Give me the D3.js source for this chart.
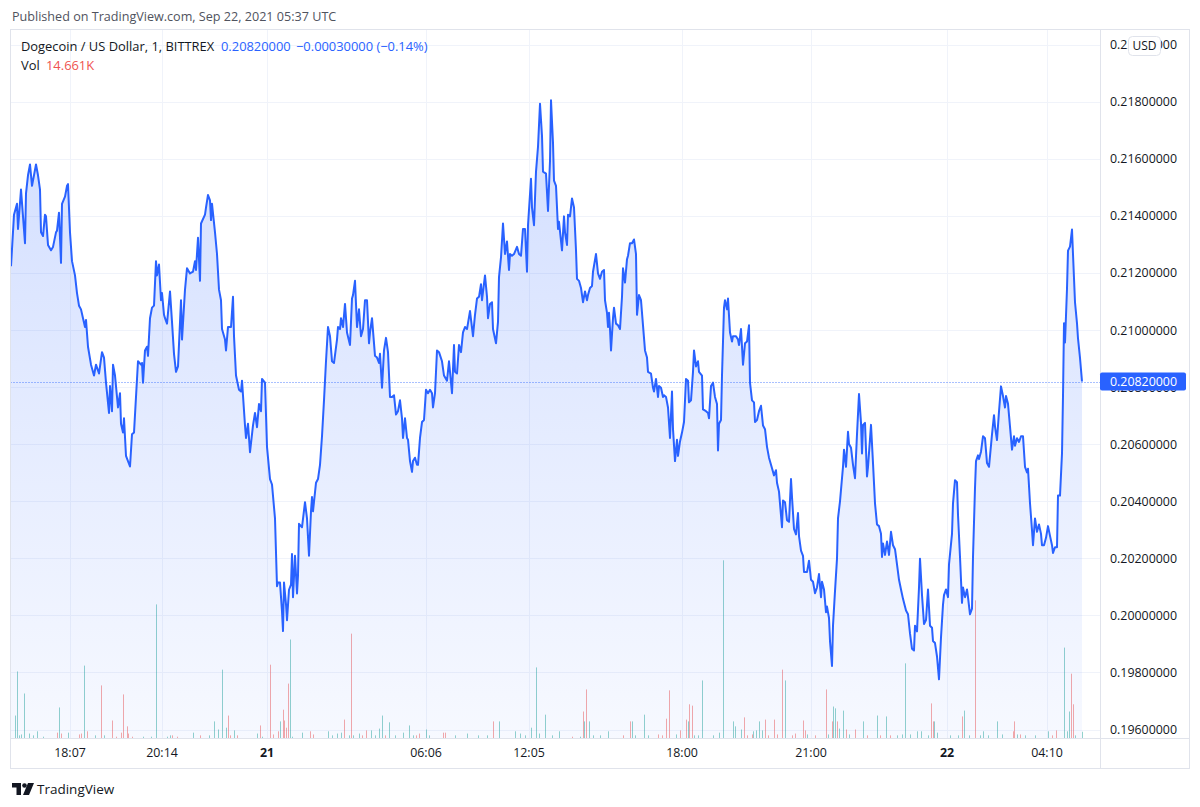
<!DOCTYPE html>
<html><head><meta charset="utf-8">
<script src="https://cdn.jsdelivr.net/npm/d3@7"></script>
<style>
html,body{margin:0;padding:0;background:#fff;}
svg{display:block;font-family:"Open Sans",sans-serif;}
</style></head>
<body>
<svg id="chart" width="1200" height="807"></svg>
<script>
// ---- DATA (bar index = 1-minute bar number from left edge) ----
const bars = [0,3,6,7,10,14,15,17,19,21,25,27,29,30,32,34,35,37,40,42,45,46,48,50,51,54,56,57,59,61,64,66,68,70,72,74,75,77,80,83,85,88,91,93,95,98,99,101,102,104,107,109,110,112,113,115,119,121,123,125,127,130,131,132,134,136,137,139,141,143,145,146,148,150,151,153,154,156,159,161,163,165,167,170,171,174,176,179,182,184,185,187,189,190,194,195,197,199,200,201,204,206,208,210,211,214,215,217,220,222,223,225,228,230,231,234,235,237,239,242,244,246,248,250,251,254,256,259,261,264,266,
267,269,271,272,273,275,276,278,280,281,282,284,286,287,288,291,294,296,298,300,301,302,305,307,309,311,313,315,317,319,321,323,326,327,329,330,332,334,336,339,341,342,344,346,348,350,352,354,356,358,359,361,364,366,368,369,371,373,375,377,379,381,383,385,387,389,391,392,394,396,397,399,401,402,404,406,407,409,411,413,415,417,419,421,422,424,426,428,431,433,436,438,439,441,443,444,446,448,450,452,454,456,459,462,464,466,468,470,471,474,476,477,479,481,482,485,487,488,490,492,494,496,498,499,501,503,506,508,510,512,514,516,517,520,521,523,525,527,
529,531,532,535,537,539,540,542,543,545,547,548,551,553,554,556,557,559,561,563,565,566,568,570,572,574,576,577,579,581,582,585,587,589,591,593,594,596,597,598,599,600,602,603,605,607,609,611,612,614,616,617,619,621,623,625,626,628,630,632,634,636,637,640,642,643,645,647,648,650,652,653,655,657,659,661,662,664,666,667,669,671,673,675,677,678,680,682,683,685,687,688,691,692,695,697,698,700,702,704,706,707,708,710,711,713,714,716,717,719,721,722,725,727,728,730,732,734,736,738,739,741,743,744,746,748,750,752,754,756,758,761,763,765,766,768,771,772,774,776,778,780,781,783,785,787,788,790,792,793,
796,798,800,802,804,806,808,810,811,813,815,816,818,819,821,822,824,826,827,829,831,832,833,835,837,838,840,842,844,846,848,850,851,852,854,856,857,860,862,864,866,868,870,871,872,874,876,878,880,882,884,886,888,890,892,895,897,899,901,903,904,906,908,909,911,913,915,917,919,921,922,924,926,928,930,932,933,935,937,938,941,942,944,946,947,949,951,952,954,956,957,959,961,962,964,965,967,968,970,972,974,976,978,981,983,984,986,988,990,992,994,995,997,999,1001,1003,1004,1006,1008,1010,1012,1014,1016,1017,1019,1021,1022,1024,1026,1028,1030,1031,1033,1035,1037,1039,1041,1042,1044,1046,1047,1049,1051,1052,1053,1054,1056,1057,1059,1061,1062,1064,1066,1067,1069,1071];
const closes = [0.21224,0.21405,0.21443,0.21355,0.21493,0.21305,0.2148,0.21543,0.21581,0.21506,0.21581,0.21543,0.21493,0.21343,0.2133,0.21405,0.21399,0.21299,0.2128,0.21292,0.21343,0.21349,0.21412,0.21236,0.21443,0.21468,0.21506,0.21512,0.21343,0.21242,0.21192,0.2113,0.21086,0.21073,0.21042,0.21011,0.21036,0.20942,0.20879,0.20841,0.20879,0.20848,0.20923,0.20904,0.20816,0.2071,0.20804,0.20716,0.20879,0.20841,0.20729,0.20779,0.20672,0.20641,0.20691,0.20559,0.20522,0.20635,0.20641,0.20766,0.20891,0.20879,0.20885,0.20816,0.20929,0.20942,0.2091,0.21042,0.21079,0.21086,0.21242,0.21192,0.2123,0.21105,0.2113,0.21054,0.21042,0.21023,0.21136,0.21029,0.20917,0.20854,0.20873,0.21105,0.20967,0.21142,0.21217,0.21199,0.21205,0.21242,0.21211,0.21324,0.21173,0.21374,0.21405,0.2143,0.21474,0.21455,0.21386,0.21443,0.21343,0.21267,0.21142,0.21105,0.21004,0.20967,0.20929,0.21011,0.21011,0.21117,0.20979,0.20841,0.20791,0.20785,0.20823,0.20666,0.20622,0.20672,0.20572,0.20666,0.2071,0.2066,0.20741,0.20716,0.20829,0.20816,0.20591,0.20478,0.20459,0.2034,0.20102,
0.20115,0.20115,0.20014,0.19945,0.20115,0.20039,0.19983,0.2009,0.20108,0.20215,0.20064,0.20209,0.20077,0.2014,0.20321,0.20309,0.20397,0.2034,0.20209,0.20365,0.20415,0.20365,0.20465,0.20478,0.20528,0.20628,0.20754,0.20891,0.21011,0.20979,0.20891,0.20885,0.20967,0.21011,0.21004,0.21042,0.21011,0.21092,0.20992,0.20948,0.21111,0.21123,0.21173,0.21011,0.21073,0.20979,0.21004,0.21105,0.21105,0.20954,0.20992,0.21042,0.2091,0.20904,0.20885,0.20917,0.20798,0.20929,0.20973,0.20923,0.20766,0.20766,0.20772,0.20704,0.20716,0.20754,0.20691,0.20622,0.20691,0.20622,0.20616,0.20541,0.20503,0.20541,0.20553,0.20528,0.20528,0.20622,0.20678,0.20685,0.20791,0.20779,0.20791,0.20779,0.20729,0.20779,0.20929,0.20923,0.20891,0.20841,0.20823,0.20891,0.20854,0.20779,0.20948,0.20854,0.20848,0.20948,0.20923,0.20992,0.21011,0.21004,0.21067,0.20979,0.21054,0.21111,0.21117,0.21161,0.21105,0.21192,0.21117,0.21042,0.21092,0.21098,0.21004,0.20954,0.21029,0.21186,0.21255,0.21374,0.21267,0.21311,0.21211,0.21267,0.21261,0.21267,0.21292,0.21267,0.21261,0.21355,0.21355,0.21205,0.21368,0.21531,0.2143,0.21368,0.21556,0.21643,
0.21794,0.21681,0.21556,0.21549,0.21418,0.21593,0.21806,0.21656,0.21524,0.21506,0.21355,0.2138,0.2128,0.21399,0.21343,0.21299,0.21405,0.21399,0.21462,0.2143,0.2128,0.2118,0.21173,0.21148,0.21098,0.21136,0.21105,0.21123,0.21148,0.21155,0.21205,0.21267,0.21199,0.2118,0.21205,0.21211,0.21105,0.21061,0.21011,0.21061,0.21004,0.20929,0.21042,0.21079,0.21023,0.21017,0.21004,0.21117,0.21217,0.21167,0.21249,0.21261,0.21305,0.21305,0.21318,0.21267,0.21054,0.21123,0.21105,0.21017,0.20929,0.20904,0.20854,0.20848,0.20798,0.20785,0.20829,0.20766,0.20804,0.20798,0.20766,0.20772,0.20766,0.20729,0.20622,0.20785,0.20653,0.20541,0.20616,0.20559,0.2061,0.20641,0.20678,0.20829,0.20823,0.20747,0.20754,0.20854,0.20929,0.20873,0.20891,0.20854,0.20841,0.20722,0.20716,0.2071,0.20691,0.20804,0.20816,0.20766,0.20741,0.20578,0.20672,0.20685,0.20841,0.21079,0.21105,0.21073,0.21111,0.20992,0.2096,0.20979,0.20979,0.20967,0.20948,0.21004,0.20879,0.20954,0.2096,0.21017,0.20816,0.20754,0.20747,0.20678,0.20685,0.20716,0.20735,0.20666,0.20653,0.20591,0.20553,0.20516,0.20491,0.20509,0.20465,0.20434,0.20309,0.20403,0.20397,0.20334,0.20328,0.20478,0.20415,0.20303,0.20284,0.20359,0.20278,0.20227,0.20209,0.20152,
0.20152,0.20192,0.20125,0.20118,0.20078,0.20098,0.20145,0.20064,0.20118,0.20091,0.20011,0.20031,0.19991,0.1991,0.19823,0.19964,0.20085,0.20199,0.2034,0.204,0.20481,0.20521,0.20581,0.20521,0.20644,0.20601,0.20588,0.20528,0.20481,0.20635,0.20776,0.20675,0.20568,0.20668,0.20675,0.20487,0.20521,0.20668,0.20534,0.20393,0.20319,0.20313,0.20286,0.20205,0.20252,0.20212,0.20259,0.20212,0.20293,0.20246,0.20232,0.20179,0.20125,0.20091,0.20058,0.20017,0.20004,0.19937,0.19883,0.19877,0.19964,0.19944,0.20098,0.20199,0.20071,0.1997,0.19984,0.20091,0.19964,0.19957,0.1991,0.19903,0.19856,0.19776,0.19923,0.20038,0.20071,0.20091,0.20064,0.20179,0.20286,0.20393,0.20474,0.20467,0.20353,0.20205,0.20044,0.20098,0.20064,0.20091,0.20064,0.20004,0.20024,0.20205,0.20447,0.20541,0.20561,0.20548,0.20574,0.20628,0.20621,0.20534,0.20521,0.20635,0.20702,0.20662,0.20615,0.20715,0.20803,0.20769,0.20729,0.20769,0.20742,0.20662,0.20581,0.20628,0.20595,0.20621,0.20608,0.20628,0.20628,0.20521,0.20501,0.20514,0.20393,0.20299,0.20246,0.2034,0.20293,0.20319,0.20286,0.20246,0.20246,0.20272,0.20313,0.20279,0.20246,0.20219,0.20239,0.20239,0.2042,0.2042,0.20568,0.20769,0.21024,0.20957,0.21145,0.21279,0.21293,0.21353,0.21266,0.21098,0.21024,0.20971,0.20903,0.2082];

// volume bars (K), direction u = up (green), d = down (red)
const volBars = [4,6,8,10,13,18,22,26,32,46,48,50,57,68,70,73,76,84,90,93,101,105,110,112,116,117,121,132,140,145,156,159,161,166,182,189,198,203,207,211,215,217,219,223,226,246,249,251,259,262,267,269,272,273,275,277,279,281,291,299,302,317,321,326,330,333,338,340,342,348,351,355,360,364,368,371,374,378,384,
392,398,402,405,408,415,418,432,434,444,456,467,476,482,488,504,509,514,520,525,528,534,541,548,561,569,572,573,575,578,582,589,597,612,619,621,624,633,637,647,651,655,658,665,669,675,677,678,681,683,687,691,702,708,712,722,724,730,733,736,741,742,745,748,751,754,757,763,766,771,774,781,784,
792,794,796,804,815,817,821,822,824,826,828,832,835,838,844,852,856,866,869,875,879,886,891,894,899,906,910,917,920,922,923,926,939,947,951,953,958,964,969,972,977,986,991,1002,1003,1006,1009,1014,1024,1037,1041,1045,1053,1056,1058,1060,1062,1064,1071];
const volK = [51,149,7,9,100,11,7,16,4,13,69,11,13,9,11,162,16,7,118,7,40,4,13,98,27,11,4,4,4,298,4,7,7,4,13,7,7,38,20,153,24,51,7,18,7,11,29,4,164,9,16,38,64,40,24,122,220,4,13,16,9,16,7,11,13,42,7,233,7,11,7,18,18,7,22,51,7,36,7,
13,29,7,7,11,20,7,13,13,7,11,7,7,38,38,16,11,7,24,158,11,53,7,16,4,4,60,38,109,38,7,7,16,7,38,38,7,53,7,9,7,44,107,9,18,42,38,76,73,7,7,129,7,13,396,38,27,20,47,7,9,16,18,38,18,42,7,42,9,153,129,7,11,
40,18,9,7,109,9,38,71,67,38,22,62,20,9,20,38,7,51,7,49,7,7,9,167,9,16,16,7,78,38,38,13,7,7,49,62,7,307,7,16,7,38,9,16,38,9,9,7,7,16,7,18,202,16,60,144,76,7,15];
const volDir = "uuuuuuuuudududdudududdddddduuuuudduduuuuuddudududddudddduuudduuuududuudduuuuduuu".split("")
  .concat("uudduudduuuuduuuuuuuuuudududuuuudduuuudddduddudduuuuuuuuuddduuuudddddudd".split(""))
  .concat("ddudduduuduudududududuuuuuuudduuuuduuduuuuudduduuudduuudduuuddd".split(""));

const priceTicks = [0.196,0.198,0.200,0.202,0.204,0.206,0.208,0.210,0.212,0.214,0.216,0.218,0.220];
const timeTickBars = [59,151,256,415,518,671,800,936,1036];
const timeTickLabels = ["18:07","20:14","21","06:06","12:05","18:00","21:00","22","04:10"];
const timeTickBold = [false,false,true,false,false,false,false,true,false];
const lastPrice = 0.2082;

// ---- LAYOUT ----
const L = 10.5, T = 29.5, R = 1189.5, B = 768.5, AX = 1100.5, PB = 738.5;
const svg = d3.select("#chart");
const x = d3.scaleLinear().domain([0, 1071]).range([11, 1082]);
const y = d3.scaleLinear().domain([0.196, 0.218]).range([729.5, 102]);
const yv = d3.scaleLinear().domain([0, 400]).range([PB, PB - 180]);

const defs = svg.append("defs");
const g = defs.append("linearGradient").attr("id","areaGrad").attr("gradientUnits","userSpaceOnUse")
  .attr("x1",0).attr("x2",0).attr("y1",y(0.218)).attr("y2",PB);
g.append("stop").attr("offset",0).attr("stop-color","rgba(41,98,255,0.21)");
g.append("stop").attr("offset",1).attr("stop-color","rgba(41,98,255,0.04)");
defs.append("clipPath").attr("id","plotClip").append("rect")
  .attr("x",L).attr("y",T).attr("width",AX-L).attr("height",PB-T);

// header
svg.append("text").attr("x",12).attr("y",21).attr("font-size",12.6).attr("fill","#50535e")
  .text("Published on TradingView.com, Sep 22, 2021 05:37 UTC");

// grid
const grid = svg.append("g");
grid.selectAll("line.h").data(priceTicks).join("line")
  .attr("x1",L).attr("x2",AX).attr("y1",d=>Math.round(y(d))+0.5).attr("y2",d=>Math.round(y(d))+0.5)
  .attr("stroke","#f0f3fa");
grid.selectAll("line.v").data(timeTickBars).join("line")
  .attr("y1",T).attr("y2",PB).attr("x1",d=>Math.round(x(d))+0.5).attr("x2",d=>Math.round(x(d))+0.5)
  .attr("stroke","#f0f3fa");

const plot = svg.append("g").attr("clip-path","url(#plotClip)");
// volume
const vols = volBars.map((b,i)=>({b, v: volK[i], up: volDir[i] === "u"}));
plot.selectAll("rect.vol").data(vols).join("rect")
  .attr("x", d=>Math.round(x(d.b))).attr("width",1)
  .attr("y", d=>yv(d.v)).attr("height", d=>PB - yv(d.v))
  .attr("fill", d=> d.up ? "rgba(38,166,154,0.5)" : "rgba(239,83,80,0.5)");

// area + line
const pts = bars.map((b,i)=>({b, v: closes[i]}));
plot.append("path").datum(pts)
  .attr("d", d3.area().x(d=>x(d.b)).y0(PB).y1(d=>y(d.v)))
  .attr("fill","url(#areaGrad)");
plot.append("path").datum(pts)
  .attr("d", d3.line().x(d=>x(d.b)).y(d=>y(d.v)))
  .attr("fill","none").attr("stroke","#2962ff").attr("stroke-width",2).attr("stroke-linejoin","round");

// last price dotted line
plot.append("line").attr("x1",L).attr("x2",AX).attr("y1",Math.round(y(lastPrice))+0.5).attr("y2",Math.round(y(lastPrice))+0.5)
  .attr("stroke","#2962ff").attr("stroke-width",1).attr("stroke-dasharray","1 2").attr("opacity",0.8);

// frame
svg.append("rect").attr("x",L).attr("y",T).attr("width",R-L).attr("height",B-T)
  .attr("fill","none").attr("stroke","#e0e3eb");
svg.append("line").attr("x1",AX).attr("x2",AX).attr("y1",T).attr("y2",B).attr("stroke","#e0e3eb");
svg.append("line").attr("x1",L).attr("x2",R).attr("y1",PB).attr("y2",PB).attr("stroke","#e0e3eb");

// price axis
svg.append("g").selectAll("text").data(priceTicks).join("text")
  .attr("x",1110).attr("y",d=>y(d)).attr("dy","0.35em").attr("font-size",12.4).attr("fill","#131722")
  .text(d=>d3.format(".8f")(d));
// USD badge
svg.append("rect").attr("x",1128.5).attr("y",36.5).attr("width",32).attr("height",19).attr("rx",4)
  .attr("fill","#fff").attr("stroke","#e0e3eb");
svg.append("text").attr("x",1144.5).attr("y",46).attr("dy","0.35em").attr("text-anchor","middle")
  .attr("font-size",12).attr("fill","#131722").text("USD");
// last price label
svg.append("rect").attr("x",1100).attr("y",y(lastPrice)-9).attr("width",86).attr("height",18).attr("rx",2)
  .attr("fill","#2962ff");
svg.append("text").attr("x",1110).attr("y",y(lastPrice)).attr("dy","0.35em").attr("font-size",12.4)
  .attr("fill","#fff").text(d3.format(".8f")(lastPrice));

// time axis
svg.append("g").selectAll("text").data(timeTickBars).join("text")
  .attr("x",d=>x(d)).attr("y",757).attr("text-anchor","middle").attr("font-size",12.4)
  .attr("fill","#131722").attr("font-weight",(d,i)=>timeTickBold[i]?"bold":"normal")
  .text((d,i)=>timeTickLabels[i]);

// legend
svg.append("text").attr("x",21).attr("y",51).attr("font-size",12.9).attr("fill","#131722").text("Dogecoin / US Dollar, 1, BITTREX");
svg.append("text").attr("x",221).attr("y",51).attr("font-size",12.9).attr("fill","#2962ff").text("0.20820000");
svg.append("text").attr("x",296).attr("y",51).attr("font-size",12.9).attr("fill","#2962ff").text("\u22120.00030000 (\u22120.14%)");
svg.append("text").attr("x",21).attr("y",70).attr("font-size",12.9).attr("fill","#131722").text("Vol");
svg.append("text").attr("x",46).attr("y",70).attr("font-size",12.9).attr("fill","#ef5350").text("14.661K");

// footer logo
const logo = svg.append("g").attr("fill","#131722");
logo.append("path").attr("d","M12,783 h9 v12 h-4.5 v-7.5 h-4.5 z");
logo.append("circle").attr("cx",24.5).attr("cy",785.5).attr("r",2.3);
logo.append("path").attr("d","M28,783 h6 l-5,12 h-6 z");
svg.append("text").attr("x",37).attr("y",793.5).attr("font-size",13.5).attr("fill","#131722").text("TradingView");
</script>
</body></html>
